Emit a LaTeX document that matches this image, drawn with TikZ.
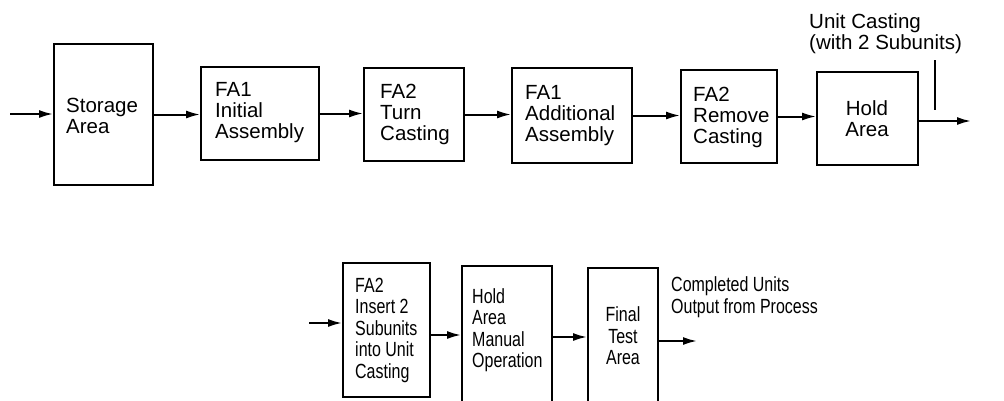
\documentclass[tikz,border=0pt]{standalone}
\usepackage{fontspec}
\setmainfont{Liberation Sans}
\newfontfamily\narrowfont[FakeStretch=0.78]{Liberation Sans}
\usetikzlibrary{arrows.meta,calc}
\begin{document}
\begin{tikzpicture}[x=1pt,y=-1pt,
  box/.style={draw, line width=1.9pt, inner sep=0pt},
  txt/.style={inner sep=0pt, align=left, font=\fontsize{20.5}{21}\selectfont},
  ntxt/.style={inner sep=0pt, align=left, font=\narrowfont\fontsize{20.5}{21.5}\selectfont},
  flow/.style={line width=2pt, -{Latex[length=14pt,width=8pt]}},
  plainline/.style={line width=1.6pt}]
\useasboundingbox (0,0) rectangle (1004,400);
\clip (0,0) rectangle (1004,400);
% top row boxes
\node[box, minimum width=99pt, minimum height=141pt] (st) at (103.5,114.5) {};
\node[box, minimum width=118pt, minimum height=93pt] (fa1i) at (260,113.5) {};
\node[box, minimum width=100pt, minimum height=93pt] (fa2t) at (414,114.5) {};
\node[box, minimum width=120pt, minimum height=95pt] (fa1a) at (572,115.5) {};
\node[box, minimum width=96pt, minimum height=93pt] (fa2r) at (729,116.5) {};
\node[box, minimum width=101pt, minimum height=93pt] (hold) at (867.5,118.5) {};
% top texts
\node[txt, anchor=west] (stt) at (66,116) {Storage\\Area};
\node[txt, anchor=west] (fa1it) at (215,113) {FA1\\Initial\\Assembly};
\node[txt, anchor=west] (fa2tt) at (380,114) {FA2\\Turn\\Casting};
\node[txt, anchor=west] (fa1at) at (525,116) {FA1\\Additional\\Assembly};
\node[txt, anchor=west] (fa2rt) at (693,117) {FA2\\Remove\\Casting};
\node[txt, align=center] (holdt) at (867,119) {Hold\\Area};
\node[txt, anchor=north west] (uc) at (809,13.5) {Unit Casting\\(with 2 Subunits)};
% top arrows
\coordinate (in1) at (10,114);
\draw[flow] (in1) -- (st.west |- in1);
\draw[flow] (st.east) -- (fa1i.west |- st.east);
\draw[flow] (fa1i.east) -- (fa2t.west |- fa1i.east);
\draw[flow] (fa2t.east) -- (fa1a.west |- fa2t.east);
\draw[flow] (fa1a.east) -- (fa2r.west |- fa1a.east);
\draw[flow] (fa2r.east) -- (hold.west |- fa2r.east);
\coordinate (out1) at (971,121);
\draw[flow] (hold.east |- out1) -- (out1);
\coordinate (tk1) at (935,60);
\coordinate (tk2) at (935,110);
\draw[plainline] (tk1) -- (tk2);
% bottom row boxes
\node[box, minimum width=87pt, minimum height=134pt] (ins) at (386.5,330) {};
\node[box, minimum width=90pt, minimum height=144pt] (hm) at (507,338) {};
\node[box, minimum width=70pt, minimum height=142pt] (ft) at (623,339) {};
% bottom texts
\node[ntxt, anchor=west] (inst) at (355,330) {FA2\\Insert 2\\Subunits\\into Unit\\Casting};
\node[ntxt, anchor=west] (hmt) at (472,330) {Hold\\Area\\Manual\\Operation};
\node[ntxt, align=center] (ftt) at (623,336) {Final\\Test\\Area};
\node[ntxt, anchor=north west] (cu) at (671,276.5) {Completed Units\\Output from Process};
% bottom arrows
\coordinate (in2) at (309,323);
\draw[flow] (in2) -- (ins.west |- in2);
\coordinate (y2) at (0,335);
\draw[flow] (ins.east |- y2) -- (hm.west |- y2);
\coordinate (y3) at (0,337);
\draw[flow] (hm.east |- y3) -- (ft.west |- y3);
\coordinate (out2) at (697,341);
\draw[flow] (ft.east |- out2) -- (out2);
\end{tikzpicture}
\end{document}
